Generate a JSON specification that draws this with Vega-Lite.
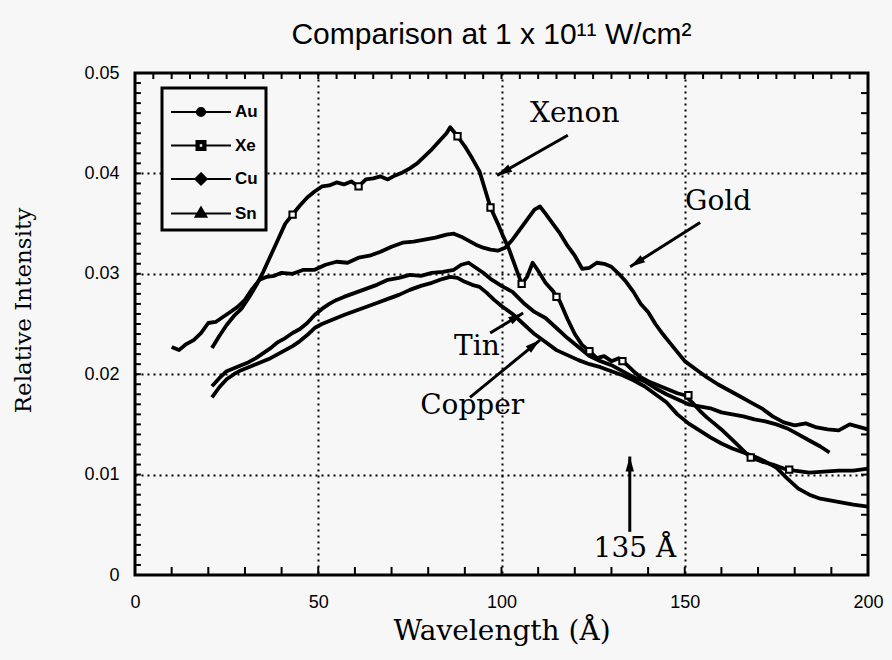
{
 "$schema": "https://vega.github.io/schema/vega-lite/v6.json",
 "width": 733, "height": 502,
 "autosize": {"type": "none"},
 "padding": {"left": 135, "top": 73, "right": 24, "bottom": 85},
 "background": "#f7f7f7",
 "config": {"view": {"stroke": "black", "strokeWidth": 3}, "legend": {"strokeWidth": 3}},
 "title": {"text": "Comparison at 1 x 10¹¹ W/cm²", "font": "Liberation Sans", "fontSize": 30, "fontWeight": "normal", "color": "black", "offset": 14, "dx": -10},
 "datasets": {
  "spectra": [
   {"series":"Au","wavelength":10,"intensity":0.0227},{"series":"Au","wavelength":12,"intensity":0.0224},{"series":"Au","wavelength":14,"intensity":0.0230},{"series":"Au","wavelength":16,"intensity":0.0234},{"series":"Au","wavelength":18,"intensity":0.0241},{"series":"Au","wavelength":20,"intensity":0.0251},{"series":"Au","wavelength":22,"intensity":0.0252},{"series":"Au","wavelength":24,"intensity":0.0257},{"series":"Au","wavelength":26,"intensity":0.0262},{"series":"Au","wavelength":28,"intensity":0.0267},{"series":"Au","wavelength":30,"intensity":0.0274},{"series":"Au","wavelength":32,"intensity":0.0285},{"series":"Au","wavelength":34,"intensity":0.0294},{"series":"Au","wavelength":36,"intensity":0.0297},{"series":"Au","wavelength":38,"intensity":0.0298},{"series":"Au","wavelength":40,"intensity":0.0301},{"series":"Au","wavelength":43,"intensity":0.0300},{"series":"Au","wavelength":46,"intensity":0.0304},{"series":"Au","wavelength":49,"intensity":0.0304},{"series":"Au","wavelength":52,"intensity":0.0309},{"series":"Au","wavelength":55,"intensity":0.0312},{"series":"Au","wavelength":58,"intensity":0.0311},{"series":"Au","wavelength":61,"intensity":0.0316},{"series":"Au","wavelength":64,"intensity":0.0318},{"series":"Au","wavelength":67,"intensity":0.0322},{"series":"Au","wavelength":70,"intensity":0.0327},{"series":"Au","wavelength":73,"intensity":0.0331},{"series":"Au","wavelength":76,"intensity":0.0332},{"series":"Au","wavelength":79,"intensity":0.0334},{"series":"Au","wavelength":82,"intensity":0.0336},{"series":"Au","wavelength":85,"intensity":0.0339},{"series":"Au","wavelength":87,"intensity":0.0340},{"series":"Au","wavelength":89,"intensity":0.0337},{"series":"Au","wavelength":91,"intensity":0.0333},{"series":"Au","wavelength":93,"intensity":0.0329},{"series":"Au","wavelength":95,"intensity":0.0326},{"series":"Au","wavelength":97,"intensity":0.0324},{"series":"Au","wavelength":99,"intensity":0.0323},{"series":"Au","wavelength":101,"intensity":0.0326},{"series":"Au","wavelength":103,"intensity":0.0334},{"series":"Au","wavelength":105,"intensity":0.0344},{"series":"Au","wavelength":107,"intensity":0.0354},{"series":"Au","wavelength":109,"intensity":0.0364},{"series":"Au","wavelength":110.5,"intensity":0.0367},{"series":"Au","wavelength":112,"intensity":0.0360},{"series":"Au","wavelength":114,"intensity":0.0350},{"series":"Au","wavelength":116,"intensity":0.0340},{"series":"Au","wavelength":118,"intensity":0.0328},{"series":"Au","wavelength":120,"intensity":0.0318},{"series":"Au","wavelength":122,"intensity":0.0305},{"series":"Au","wavelength":124,"intensity":0.0306},{"series":"Au","wavelength":126,"intensity":0.0311},{"series":"Au","wavelength":128,"intensity":0.0310},{"series":"Au","wavelength":130,"intensity":0.0307},{"series":"Au","wavelength":132,"intensity":0.0300},{"series":"Au","wavelength":134,"intensity":0.0292},{"series":"Au","wavelength":136,"intensity":0.0282},{"series":"Au","wavelength":138,"intensity":0.0270},{"series":"Au","wavelength":140,"intensity":0.0262},{"series":"Au","wavelength":142,"intensity":0.0250},{"series":"Au","wavelength":144,"intensity":0.0240},{"series":"Au","wavelength":146,"intensity":0.0231},{"series":"Au","wavelength":148,"intensity":0.0222},{"series":"Au","wavelength":150,"intensity":0.0213},{"series":"Au","wavelength":153,"intensity":0.0205},{"series":"Au","wavelength":156,"intensity":0.0197},{"series":"Au","wavelength":159,"intensity":0.0190},{"series":"Au","wavelength":162,"intensity":0.0184},{"series":"Au","wavelength":165,"intensity":0.0178},{"series":"Au","wavelength":168,"intensity":0.0172},{"series":"Au","wavelength":171,"intensity":0.0166},{"series":"Au","wavelength":174,"intensity":0.0158},{"series":"Au","wavelength":177,"intensity":0.0152},{"series":"Au","wavelength":180,"intensity":0.0149},{"series":"Au","wavelength":183,"intensity":0.0151},{"series":"Au","wavelength":186,"intensity":0.0147},{"series":"Au","wavelength":189,"intensity":0.0145},{"series":"Au","wavelength":192,"intensity":0.0144},{"series":"Au","wavelength":195,"intensity":0.0150},{"series":"Au","wavelength":198,"intensity":0.0147},{"series":"Au","wavelength":200,"intensity":0.0145},
   {"series":"Xe","wavelength":21,"intensity":0.0226},{"series":"Xe","wavelength":23,"intensity":0.0238},{"series":"Xe","wavelength":25,"intensity":0.0249},{"series":"Xe","wavelength":27,"intensity":0.0258},{"series":"Xe","wavelength":29,"intensity":0.0265},{"series":"Xe","wavelength":31,"intensity":0.0276},{"series":"Xe","wavelength":33,"intensity":0.0288},{"series":"Xe","wavelength":35,"intensity":0.0302},{"series":"Xe","wavelength":37,"intensity":0.0318},{"series":"Xe","wavelength":39,"intensity":0.0334},{"series":"Xe","wavelength":41,"intensity":0.0350},{"series":"Xe","wavelength":43,"intensity":0.0359},{"series":"Xe","wavelength":45,"intensity":0.0368},{"series":"Xe","wavelength":47,"intensity":0.0376},{"series":"Xe","wavelength":49,"intensity":0.0382},{"series":"Xe","wavelength":51,"intensity":0.0387},{"series":"Xe","wavelength":53,"intensity":0.0388},{"series":"Xe","wavelength":55,"intensity":0.0391},{"series":"Xe","wavelength":57,"intensity":0.0389},{"series":"Xe","wavelength":59,"intensity":0.0392},{"series":"Xe","wavelength":61,"intensity":0.0387},{"series":"Xe","wavelength":63,"intensity":0.0394},{"series":"Xe","wavelength":65,"intensity":0.0395},{"series":"Xe","wavelength":67,"intensity":0.0397},{"series":"Xe","wavelength":69,"intensity":0.0394},{"series":"Xe","wavelength":71,"intensity":0.0398},{"series":"Xe","wavelength":73,"intensity":0.0401},{"series":"Xe","wavelength":75,"intensity":0.0405},{"series":"Xe","wavelength":77,"intensity":0.0410},{"series":"Xe","wavelength":79,"intensity":0.0417},{"series":"Xe","wavelength":81,"intensity":0.0424},{"series":"Xe","wavelength":83,"intensity":0.0432},{"series":"Xe","wavelength":85,"intensity":0.0440},{"series":"Xe","wavelength":86,"intensity":0.0446},{"series":"Xe","wavelength":88,"intensity":0.0437},{"series":"Xe","wavelength":90,"intensity":0.0427},{"series":"Xe","wavelength":92,"intensity":0.0415},{"series":"Xe","wavelength":94,"intensity":0.0402},{"series":"Xe","wavelength":96,"intensity":0.0378},{"series":"Xe","wavelength":97,"intensity":0.0366},{"series":"Xe","wavelength":99,"intensity":0.0350},{"series":"Xe","wavelength":100.5,"intensity":0.0337},{"series":"Xe","wavelength":102,"intensity":0.0325},{"series":"Xe","wavelength":104,"intensity":0.0305},{"series":"Xe","wavelength":105.5,"intensity":0.0290},{"series":"Xe","wavelength":107,"intensity":0.0297},{"series":"Xe","wavelength":108.5,"intensity":0.0311},{"series":"Xe","wavelength":110,"intensity":0.0303},{"series":"Xe","wavelength":112,"intensity":0.0291},{"series":"Xe","wavelength":114,"intensity":0.0283},{"series":"Xe","wavelength":116,"intensity":0.0272},{"series":"Xe","wavelength":118,"intensity":0.0255},{"series":"Xe","wavelength":120,"intensity":0.0240},{"series":"Xe","wavelength":122,"intensity":0.0229},{"series":"Xe","wavelength":124,"intensity":0.0223},{"series":"Xe","wavelength":126,"intensity":0.0216},{"series":"Xe","wavelength":128,"intensity":0.0218},{"series":"Xe","wavelength":130,"intensity":0.0213},{"series":"Xe","wavelength":132,"intensity":0.0216},{"series":"Xe","wavelength":134,"intensity":0.0210},{"series":"Xe","wavelength":136,"intensity":0.0203},{"series":"Xe","wavelength":138,"intensity":0.0197},{"series":"Xe","wavelength":140,"intensity":0.0193},{"series":"Xe","wavelength":142,"intensity":0.0190},{"series":"Xe","wavelength":144,"intensity":0.0187},{"series":"Xe","wavelength":146,"intensity":0.0184},{"series":"Xe","wavelength":148,"intensity":0.0181},{"series":"Xe","wavelength":150,"intensity":0.0179},{"series":"Xe","wavelength":152,"intensity":0.0172},{"series":"Xe","wavelength":154,"intensity":0.0164},{"series":"Xe","wavelength":156,"intensity":0.0157},{"series":"Xe","wavelength":158,"intensity":0.0151},{"series":"Xe","wavelength":160,"intensity":0.0145},{"series":"Xe","wavelength":162,"intensity":0.0138},{"series":"Xe","wavelength":164,"intensity":0.0131},{"series":"Xe","wavelength":166,"intensity":0.0124},{"series":"Xe","wavelength":168,"intensity":0.0117},{"series":"Xe","wavelength":171,"intensity":0.0113},{"series":"Xe","wavelength":174,"intensity":0.0110},{"series":"Xe","wavelength":177,"intensity":0.0106},{"series":"Xe","wavelength":180,"intensity":0.0104},{"series":"Xe","wavelength":184,"intensity":0.0102},{"series":"Xe","wavelength":188,"intensity":0.0103},{"series":"Xe","wavelength":192,"intensity":0.0104},{"series":"Xe","wavelength":196,"intensity":0.0104},{"series":"Xe","wavelength":200,"intensity":0.0106},
   {"series":"Sn","wavelength":21,"intensity":0.0188},{"series":"Sn","wavelength":23,"intensity":0.0196},{"series":"Sn","wavelength":25,"intensity":0.0203},{"series":"Sn","wavelength":27,"intensity":0.0206},{"series":"Sn","wavelength":29,"intensity":0.0209},{"series":"Sn","wavelength":31,"intensity":0.0212},{"series":"Sn","wavelength":33,"intensity":0.0216},{"series":"Sn","wavelength":35,"intensity":0.0221},{"series":"Sn","wavelength":37,"intensity":0.0226},{"series":"Sn","wavelength":39,"intensity":0.0232},{"series":"Sn","wavelength":41,"intensity":0.0236},{"series":"Sn","wavelength":43,"intensity":0.0241},{"series":"Sn","wavelength":45,"intensity":0.0245},{"series":"Sn","wavelength":47,"intensity":0.0251},{"series":"Sn","wavelength":49,"intensity":0.0259},{"series":"Sn","wavelength":51,"intensity":0.0265},{"series":"Sn","wavelength":53,"intensity":0.0270},{"series":"Sn","wavelength":55,"intensity":0.0274},{"series":"Sn","wavelength":57,"intensity":0.0277},{"series":"Sn","wavelength":60,"intensity":0.0281},{"series":"Sn","wavelength":63,"intensity":0.0285},{"series":"Sn","wavelength":66,"intensity":0.0289},{"series":"Sn","wavelength":69,"intensity":0.0294},{"series":"Sn","wavelength":72,"intensity":0.0296},{"series":"Sn","wavelength":75,"intensity":0.0299},{"series":"Sn","wavelength":78,"intensity":0.0298},{"series":"Sn","wavelength":81,"intensity":0.0301},{"series":"Sn","wavelength":84,"intensity":0.0302},{"series":"Sn","wavelength":87,"intensity":0.0304},{"series":"Sn","wavelength":89,"intensity":0.0309},{"series":"Sn","wavelength":91,"intensity":0.0311},{"series":"Sn","wavelength":93,"intensity":0.0306},{"series":"Sn","wavelength":95,"intensity":0.0301},{"series":"Sn","wavelength":97,"intensity":0.0295},{"series":"Sn","wavelength":100,"intensity":0.0288},{"series":"Sn","wavelength":103,"intensity":0.0282},{"series":"Sn","wavelength":106,"intensity":0.0271},{"series":"Sn","wavelength":109,"intensity":0.0262},{"series":"Sn","wavelength":112,"intensity":0.0256},{"series":"Sn","wavelength":115,"intensity":0.0246},{"series":"Sn","wavelength":118,"intensity":0.0236},{"series":"Sn","wavelength":121,"intensity":0.0227},{"series":"Sn","wavelength":124,"intensity":0.0218},{"series":"Sn","wavelength":127,"intensity":0.0213},{"series":"Sn","wavelength":130,"intensity":0.0209},{"series":"Sn","wavelength":133,"intensity":0.0203},{"series":"Sn","wavelength":136,"intensity":0.0197},{"series":"Sn","wavelength":139,"intensity":0.0193},{"series":"Sn","wavelength":142,"intensity":0.0186},{"series":"Sn","wavelength":145,"intensity":0.0180},{"series":"Sn","wavelength":148,"intensity":0.0175},{"series":"Sn","wavelength":151,"intensity":0.0170},{"series":"Sn","wavelength":154,"intensity":0.0168},{"series":"Sn","wavelength":157,"intensity":0.0166},{"series":"Sn","wavelength":160,"intensity":0.0162},{"series":"Sn","wavelength":163,"intensity":0.0160},{"series":"Sn","wavelength":166,"intensity":0.0158},{"series":"Sn","wavelength":169,"intensity":0.0155},{"series":"Sn","wavelength":172,"intensity":0.0153},{"series":"Sn","wavelength":175,"intensity":0.0150},{"series":"Sn","wavelength":178,"intensity":0.0146},{"series":"Sn","wavelength":181,"intensity":0.0140},{"series":"Sn","wavelength":184,"intensity":0.0134},{"series":"Sn","wavelength":187,"intensity":0.0128},{"series":"Sn","wavelength":189.5,"intensity":0.0122},
   {"series":"Cu","wavelength":21,"intensity":0.0177},{"series":"Cu","wavelength":23,"intensity":0.0187},{"series":"Cu","wavelength":25,"intensity":0.0195},{"series":"Cu","wavelength":27,"intensity":0.0200},{"series":"Cu","wavelength":29,"intensity":0.0204},{"series":"Cu","wavelength":31,"intensity":0.0207},{"series":"Cu","wavelength":33,"intensity":0.0210},{"series":"Cu","wavelength":35,"intensity":0.0213},{"series":"Cu","wavelength":37,"intensity":0.0216},{"series":"Cu","wavelength":39,"intensity":0.0220},{"series":"Cu","wavelength":41,"intensity":0.0224},{"series":"Cu","wavelength":43,"intensity":0.0228},{"series":"Cu","wavelength":45,"intensity":0.0233},{"series":"Cu","wavelength":47,"intensity":0.0239},{"series":"Cu","wavelength":49,"intensity":0.0246},{"series":"Cu","wavelength":51,"intensity":0.0250},{"series":"Cu","wavelength":53,"intensity":0.0253},{"series":"Cu","wavelength":55,"intensity":0.0256},{"series":"Cu","wavelength":57,"intensity":0.0259},{"series":"Cu","wavelength":60,"intensity":0.0263},{"series":"Cu","wavelength":63,"intensity":0.0267},{"series":"Cu","wavelength":66,"intensity":0.0271},{"series":"Cu","wavelength":69,"intensity":0.0275},{"series":"Cu","wavelength":72,"intensity":0.0279},{"series":"Cu","wavelength":75,"intensity":0.0284},{"series":"Cu","wavelength":78,"intensity":0.0288},{"series":"Cu","wavelength":81,"intensity":0.0291},{"series":"Cu","wavelength":84,"intensity":0.0295},{"series":"Cu","wavelength":86,"intensity":0.0297},{"series":"Cu","wavelength":88,"intensity":0.0296},{"series":"Cu","wavelength":90,"intensity":0.0292},{"series":"Cu","wavelength":92,"intensity":0.0289},{"series":"Cu","wavelength":94,"intensity":0.0287},{"series":"Cu","wavelength":96,"intensity":0.0281},{"series":"Cu","wavelength":98,"intensity":0.0274},{"series":"Cu","wavelength":100,"intensity":0.0268},{"series":"Cu","wavelength":103,"intensity":0.0260},{"series":"Cu","wavelength":106,"intensity":0.0250},{"series":"Cu","wavelength":109,"intensity":0.0240},{"series":"Cu","wavelength":112,"intensity":0.0232},{"series":"Cu","wavelength":115,"intensity":0.0224},{"series":"Cu","wavelength":118,"intensity":0.0219},{"series":"Cu","wavelength":121,"intensity":0.0214},{"series":"Cu","wavelength":124,"intensity":0.0210},{"series":"Cu","wavelength":127,"intensity":0.0207},{"series":"Cu","wavelength":130,"intensity":0.0203},{"series":"Cu","wavelength":133,"intensity":0.0199},{"series":"Cu","wavelength":136,"intensity":0.0194},{"series":"Cu","wavelength":139,"intensity":0.0188},{"series":"Cu","wavelength":142,"intensity":0.0180},{"series":"Cu","wavelength":145,"intensity":0.0172},{"series":"Cu","wavelength":148,"intensity":0.0160},{"series":"Cu","wavelength":151,"intensity":0.0151},{"series":"Cu","wavelength":154,"intensity":0.0144},{"series":"Cu","wavelength":157,"intensity":0.0137},{"series":"Cu","wavelength":160,"intensity":0.0131},{"series":"Cu","wavelength":163,"intensity":0.0126},{"series":"Cu","wavelength":166,"intensity":0.0122},{"series":"Cu","wavelength":169,"intensity":0.0118},{"series":"Cu","wavelength":172,"intensity":0.0113},{"series":"Cu","wavelength":175,"intensity":0.0107},{"series":"Cu","wavelength":178,"intensity":0.0096},{"series":"Cu","wavelength":181,"intensity":0.0086},{"series":"Cu","wavelength":184,"intensity":0.0080},{"series":"Cu","wavelength":187,"intensity":0.0076},{"series":"Cu","wavelength":190,"intensity":0.0074},{"series":"Cu","wavelength":193,"intensity":0.0072},{"series":"Cu","wavelength":196,"intensity":0.0070},{"series":"Cu","wavelength":198,"intensity":0.0069},{"series":"Cu","wavelength":200,"intensity":0.0068}
  ],
  "xemarks": [
   {"wavelength":43,"intensity":0.0359},{"wavelength":61,"intensity":0.0387},{"wavelength":88,"intensity":0.0437},{"wavelength":97,"intensity":0.0366},{"wavelength":105.5,"intensity":0.0290},{"wavelength":115,"intensity":0.0277},{"wavelength":124,"intensity":0.0223},{"wavelength":133,"intensity":0.0213},{"wavelength":151,"intensity":0.0179},{"wavelength":168,"intensity":0.0117},{"wavelength":178.5,"intensity":0.0105}
  ],
  "wticks": [
   {"pos":5},{"pos":10},{"pos":15},{"pos":20},{"pos":25},{"pos":30},{"pos":35},{"pos":40},{"pos":45},{"pos":50},{"pos":55},{"pos":60},{"pos":65},{"pos":70},{"pos":75},{"pos":80},{"pos":85},{"pos":90},{"pos":95},{"pos":100},{"pos":105},{"pos":110},{"pos":115},{"pos":120},{"pos":125},{"pos":130},{"pos":135},{"pos":140},{"pos":145},{"pos":150},{"pos":155},{"pos":160},{"pos":165},{"pos":170},{"pos":175},{"pos":180},{"pos":185},{"pos":190},{"pos":195}
  ],
  "iticks": [
   {"pos":0.001},{"pos":0.002},{"pos":0.003},{"pos":0.004},{"pos":0.005},{"pos":0.006},{"pos":0.007},{"pos":0.008},{"pos":0.009},{"pos":0.010},{"pos":0.011},{"pos":0.012},{"pos":0.013},{"pos":0.014},{"pos":0.015},{"pos":0.016},{"pos":0.017},{"pos":0.018},{"pos":0.019},{"pos":0.020},{"pos":0.021},{"pos":0.022},{"pos":0.023},{"pos":0.024},{"pos":0.025},{"pos":0.026},{"pos":0.027},{"pos":0.028},{"pos":0.029},{"pos":0.030},{"pos":0.031},{"pos":0.032},{"pos":0.033},{"pos":0.034},{"pos":0.035},{"pos":0.036},{"pos":0.037},{"pos":0.038},{"pos":0.039},{"pos":0.040},{"pos":0.041},{"pos":0.042},{"pos":0.043},{"pos":0.044},{"pos":0.045},{"pos":0.046},{"pos":0.047},{"pos":0.048},{"pos":0.049}
  ],
  "notes": [
   {"label":"Xenon","w":120,"i":0.0459},
   {"label":"Gold","w":159.1,"i":0.0372},
   {"label":"Tin","w":93.3,"i":0.0227},
   {"label":"Copper","w":92,"i":0.0168},
   {"label":"135 Å","w":136.4,"i":0.0026}
  ],
  "arrows": [
   {"note":"Xenon","fromW":118.1,"fromI":0.0438,"toW":98.8,"toI":0.0398},
   {"note":"Gold","fromW":154.2,"fromI":0.0351,"toW":135.1,"toI":0.0307},
   {"note":"Tin","fromW":96.9,"fromI":0.0241,"toW":105.9,"toI":0.0261},
   {"note":"Copper","fromW":91.4,"fromI":0.0177,"toW":110.5,"toI":0.0234},
   {"note":"135","fromW":135,"fromI":0.0043,"toW":135,"toI":0.0118}
  ],
  "keys": [{"series":"Au"},{"series":"Xe"},{"series":"Cu"},{"series":"Sn"}]
 },
 "layer": [
  {
   "data": {"name": "spectra"},
   "mark": {"type": "line", "color": "black", "strokeWidth": 3.8, "strokeJoin": "round"},
   "encoding": {
    "x": {"field": "wavelength", "type": "quantitative", "scale": {"domain": [0, 200], "nice": false, "zero": false},
     "axis": {"orient": "bottom", "values": [0,50,100,150,200],
      "title": "Wavelength (Å)", "titleFont": "DejaVu Serif", "titleFontSize": 28, "titleFontWeight": "normal", "titleColor": "black", "titlePadding": 6,
      "labelFont": "Liberation Sans", "labelFontSize": 18, "labelColor": "black", "labelPadding": 18, "labelFlush": false,
      "ticks": false, "domain": false,
      "grid": true, "gridColor": "black", "gridWidth": 2, "gridDash": [2, 4],
      "gridOpacity": {"condition": {"test": "datum.value > 0 && datum.value < 200", "value": 1}, "value": 0}}},
    "y": {"field": "intensity", "type": "quantitative", "scale": {"domain": [0, 0.05], "nice": false},
     "axis": {"orient": "left", "values": [0,0.01,0.02,0.03,0.04,0.05],
      "title": "Relative Intensity", "titleFont": "DejaVu Serif", "titleFontSize": 23, "titleFontWeight": "normal", "titleColor": "black", "titlePadding": 48, "titleY": 237,
      "labelExpr": "datum.value == 0 ? '0' : format(datum.value, '.2f')",
      "labelFont": "Liberation Sans", "labelFontSize": 18, "labelColor": "black", "labelPadding": 16, "labelFlush": false,
      "ticks": false, "domain": false,
      "grid": true, "gridColor": "black", "gridWidth": 2, "gridDash": [2, 4],
      "gridOpacity": {"condition": {"test": "datum.value > 0.001 && datum.value < 0.049", "value": 1}, "value": 0}}},
    "detail": {"field": "series", "type": "nominal"}
   }
  },
  {
   "data": {"name": "wticks"},
   "transform": [{"filter": "datum.pos % 10 === 0"}],
   "mark": {"type": "rule", "color": "black", "strokeWidth": 2},
   "encoding": {
    "x": {"field": "pos", "type": "quantitative"},
    "y": {"datum": 0, "type": "quantitative"},
    "y2": {"datum": 0.0008}
   }
  },
  {
   "data": {"name": "wticks"},
   "mark": {"type": "rule", "color": "black", "strokeWidth": 2},
   "encoding": {
    "x": {"field": "pos", "type": "quantitative"},
    "y": {"datum": 0.05, "type": "quantitative"},
    "y2": {"datum": 0.0494}
   }
  },
  {
   "data": {"name": "iticks"},
   "mark": {"type": "rule", "color": "black", "strokeWidth": 2},
   "encoding": {
    "y": {"field": "pos", "type": "quantitative"},
    "x": {"datum": 0, "type": "quantitative"},
    "x2": {"datum": 1.6}
   }
  },
  {
   "data": {"name": "iticks"},
   "transform": [{"filter": "abs(datum.pos*500 - round(datum.pos*500)) < 0.0001"}],
   "mark": {"type": "rule", "color": "black", "strokeWidth": 2},
   "encoding": {
    "y": {"field": "pos", "type": "quantitative"},
    "x": {"datum": 200, "type": "quantitative"},
    "x2": {"datum": 198.1}
   }
  },
  {
   "data": {"name": "xemarks"},
   "mark": {"type": "square", "filled": true, "fill": "white", "stroke": "black", "strokeWidth": 2, "size": 40, "opacity": 1},
   "encoding": {
    "x": {"field": "wavelength", "type": "quantitative"},
    "y": {"field": "intensity", "type": "quantitative"}
   }
  },
  {
   "data": {"name": "arrows"},
   "mark": {"type": "rule", "color": "black", "strokeWidth": 3},
   "encoding": {
    "x": {"field": "fromW", "type": "quantitative"},
    "y": {"field": "fromI", "type": "quantitative"},
    "x2": {"field": "toW"},
    "y2": {"field": "toI"}
   }
  },
  {
   "data": {"name": "arrows"},
   "transform": [{"filter": "datum.note === 'Xenon'"}],
   "mark": {"type": "point", "shape": "M0,0L0.42,1.5L-0.42,1.5Z", "filled": true, "color": "black", "opacity": 1, "size": 400, "angle": 240.6},
   "encoding": {"x": {"field": "toW", "type": "quantitative"}, "y": {"field": "toI", "type": "quantitative"}}
  },
  {
   "data": {"name": "arrows"},
   "transform": [{"filter": "datum.note === 'Gold'"}],
   "mark": {"type": "point", "shape": "M0,0L0.42,1.5L-0.42,1.5Z", "filled": true, "color": "black", "opacity": 1, "size": 400, "angle": 237.8},
   "encoding": {"x": {"field": "toW", "type": "quantitative"}, "y": {"field": "toI", "type": "quantitative"}}
  },
  {
   "data": {"name": "arrows"},
   "transform": [{"filter": "datum.note === 'Tin'"}],
   "mark": {"type": "point", "shape": "M0,0L0.42,1.5L-0.42,1.5Z", "filled": true, "color": "black", "opacity": 1, "size": 400, "angle": 58.8},
   "encoding": {"x": {"field": "toW", "type": "quantitative"}, "y": {"field": "toI", "type": "quantitative"}}
  },
  {
   "data": {"name": "arrows"},
   "transform": [{"filter": "datum.note === 'Copper'"}],
   "mark": {"type": "point", "shape": "M0,0L0.42,1.5L-0.42,1.5Z", "filled": true, "color": "black", "opacity": 1, "size": 400, "angle": 50.8},
   "encoding": {"x": {"field": "toW", "type": "quantitative"}, "y": {"field": "toI", "type": "quantitative"}}
  },
  {
   "data": {"name": "arrows"},
   "transform": [{"filter": "datum.note === '135'"}],
   "mark": {"type": "point", "shape": "M0,0L0.42,1.5L-0.42,1.5Z", "filled": true, "color": "black", "opacity": 1, "size": 400, "angle": 0},
   "encoding": {"x": {"field": "toW", "type": "quantitative"}, "y": {"field": "toI", "type": "quantitative"}}
  },
  {
   "data": {"name": "notes"},
   "mark": {"type": "text", "font": "DejaVu Serif", "fontSize": 28, "color": "black", "align": "center", "baseline": "middle"},
   "encoding": {
    "x": {"field": "w", "type": "quantitative"},
    "y": {"field": "i", "type": "quantitative"},
    "text": {"field": "label"}
   }
  },
  {
   "data": {"name": "keys"},
   "mark": {"type": "point", "filled": false, "fill": "black", "stroke": "black", "strokeWidth": 2, "opacity": 0},
   "encoding": {
    "shape": {"field": "series", "type": "nominal",
     "scale": {"domain": ["Au", "Xe", "Cu", "Sn"],
      "range": ["M-2,0H2M-0.27,0A0.27,0.27,0,1,0,0.27,0A0.27,0.27,0,1,0,-0.27,0Z",
                "M-2,0H-0.3M0.3,0H2M-0.3,-0.3H0.3V0.3H-0.3ZM-0.15,-0.15V0.15H0.15V-0.15Z",
                "M-2,0H2M0,-0.38L0.38,0L0,0.38L-0.38,0Z",
                "M-2,0H2M0,-0.4L0.36,0.22L-0.36,0.22Z"]},
     "legend": {"orient": "none", "legendX": 27, "legendY": 15, "title": null,
      "symbolSize": 900, "symbolOpacity": 1, "symbolStrokeWidth": 2, "symbolOffset": 15,
      "labelFont": "Liberation Sans", "labelFontSize": 17, "labelFontWeight": "bold", "labelColor": "black", "labelOffset": 18,
      "rowPadding": 8.5, "padding": 8, "strokeColor": "black", "fillColor": "#f7f7f7"}}
   }
  }
 ]
}
